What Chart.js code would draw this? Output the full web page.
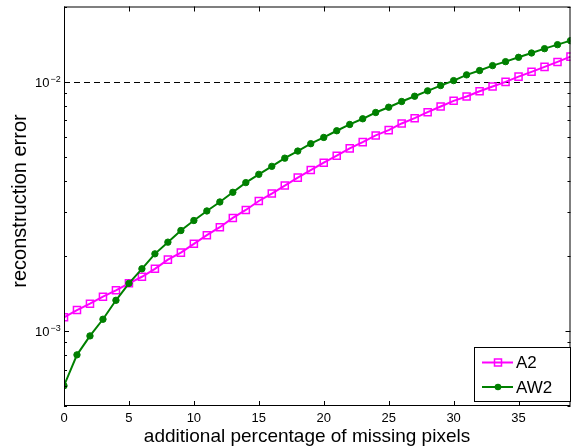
<!DOCTYPE html>
<html>
<head>
<meta charset="utf-8">
<script src="https://cdn.jsdelivr.net/npm/chart.js@4/dist/chart.umd.min.js"></script>
<style>
  html, body { margin: 0; padding: 0; background: #ffffff; }
  #errChart { display: block; }
</style>
</head>
<body>
<canvas id="errChart" width="577" height="448"></canvas>
<script>
// values (log y axis)
const missingPct = [0, 1, 2, 3, 4, 5, 6, 7, 8, 9, 10, 11, 12, 13, 14, 15, 16, 17, 18, 19,
                    20, 21, 22, 23, 24, 25, 26, 27, 28, 29, 30, 31, 32, 33, 34, 35, 36, 37, 38, 39];

const errA2 = [1.134e-3, 1.213e-3, 1.286e-3, 1.372e-3, 1.455e-3, 1.552e-3, 1.649e-3, 1.775e-3, 1.932e-3, 2.061e-3,
               2.235e-3, 2.421e-3, 2.606e-3, 2.839e-3, 3.056e-3, 3.320e-3, 3.555e-3, 3.827e-3, 4.120e-3, 4.418e-3,
               4.729e-3, 5.045e-3, 5.395e-3, 5.717e-3, 6.081e-3, 6.385e-3, 6.792e-3, 7.131e-3, 7.537e-3, 7.943e-3,
               8.372e-3, 8.710e-3, 9.146e-3, 9.550e-3, 9.972e-3, 1.047e-2, 1.094e-2, 1.145e-2, 1.199e-2, 1.259e-2];

const errAW2 = [6.03e-4, 8.02e-4, 9.55e-4, 1.114e-3, 1.327e-3, 1.552e-3, 1.775e-3, 2.038e-3, 2.270e-3, 2.527e-3,
                2.772e-3, 3.028e-3, 3.290e-3, 3.597e-3, 3.934e-3, 4.246e-3, 4.571e-3, 4.930e-3, 5.264e-3, 5.634e-3,
                5.970e-3, 6.350e-3, 6.730e-3, 7.092e-3, 7.516e-3, 7.892e-3, 8.318e-3, 8.734e-3, 9.180e-3, 9.638e-3,
                1.009e-2, 1.064e-2, 1.107e-2, 1.159e-2, 1.202e-2, 1.251e-2, 1.302e-2, 1.355e-2, 1.406e-2, 1.459e-2];

const xTicks = [0, 5, 10, 15, 20, 25, 30, 35];
const yDecades = [1e-3, 1e-2];
const yDecadeExp = ['\u22123', '\u22122'];

const MAGENTA = '#ff00ff';
const GREEN = '#008000';
const FONT = '"Liberation Sans", Arial, sans-serif';

const toPoints = (ys) => ys.map((y, i) => ({ x: missingPct[i], y: y }));

// axes box, inward ticks, labels, titles and legend (MATLAB look)
const matlabAxes = {
    id: 'matlabAxes',
    beforeDatasetsDraw(chart) {
        const ctx = chart.ctx;
        const a = chart.chartArea;
        const y = Math.round(chart.scales.y.getPixelForValue(1e-2)) + 0.5;
        ctx.save();
        ctx.strokeStyle = '#000';
        ctx.lineWidth = 1;
        ctx.setLineDash([6, 4]);
        ctx.beginPath();
        ctx.moveTo(a.left, y);
        ctx.lineTo(a.right, y);
        ctx.stroke();
        ctx.restore();
    },
    afterDatasetsDraw(chart) {
        const ctx = chart.ctx;
        const a = chart.chartArea;
        const xs = chart.scales.x;
        const ys = chart.scales.y;
        ctx.save();
        ctx.strokeStyle = '#000';
        ctx.lineWidth = 1;

        // box
        ctx.strokeRect(a.left + 0.5, a.top + 0.5, a.right - a.left - 1, a.bottom - a.top - 1);

        // x ticks top and bottom
        ctx.beginPath();
        xTicks.forEach(v => {
            const px = Math.round(xs.getPixelForValue(v)) + 0.5;
            ctx.moveTo(px, a.bottom); ctx.lineTo(px, a.bottom - 5);
            ctx.moveTo(px, a.top); ctx.lineTo(px, a.top + 5);
        });
        // y ticks left and right, major + minor
        yDecades.concat([1e-4]).forEach(d => {
            for (let k = 1; k <= 9; k++) {
                const v = d * k;
                if (v < ys.min || v > ys.max) continue;
                const len = k === 1 ? 5 : 3;
                const py = Math.round(ys.getPixelForValue(v)) + 0.5;
                ctx.moveTo(a.left, py); ctx.lineTo(a.left + len, py);
                ctx.moveTo(a.right, py); ctx.lineTo(a.right - len, py);
            }
        });
        ctx.stroke();

        ctx.fillStyle = '#000';
        // x tick labels
        ctx.font = '13px ' + FONT;
        ctx.textAlign = 'center';
        ctx.textBaseline = 'middle';
        xTicks.forEach(v => {
            ctx.fillText(String(v), xs.getPixelForValue(v), a.bottom + 12);
        });

        // y tick labels 10^-n
        yDecades.forEach((v, i) => {
            const py = ys.getPixelForValue(v);
            ctx.font = '13px ' + FONT;
            ctx.textAlign = 'right';
            ctx.textBaseline = 'middle';
            ctx.fillText('10', 49.5, py + 1.5);
            ctx.font = '9px ' + FONT;
            ctx.textAlign = 'left';
            ctx.textBaseline = 'alphabetic';
            ctx.fillText(yDecadeExp[i], 50.5, py);
        });

        // axis titles
        ctx.font = '19px ' + FONT;
        ctx.textAlign = 'center';
        ctx.textBaseline = 'alphabetic';
        ctx.fillText('additional percentage of missing pixels', 307, 442);

        ctx.save();
        ctx.translate(26, 201);
        ctx.rotate(-Math.PI / 2);
        ctx.font = '20px ' + FONT;
        ctx.fillText('reconstruction error', 0, 0);
        ctx.restore();

        // legend
        const lx = 474.5, ly = 347.5, lw = 96, lh = 54;
        ctx.fillStyle = '#fff';
        ctx.fillRect(lx, ly, lw, lh);
        ctx.strokeRect(lx, ly, lw, lh);
        chart.data.datasets.forEach((ds, i) => {
            const rowY = ly + 15 + i * 24.5;
            ctx.strokeStyle = ds.borderColor;
            ctx.lineWidth = 2;
            ctx.beginPath();
            ctx.moveTo(482, rowY); ctx.lineTo(513, rowY);
            ctx.stroke();
            if (ds.pointStyle === 'rect') {
                ctx.lineWidth = 1.5;
                ctx.strokeRect(494.5, rowY - 3.5, 7, 7);
            } else {
                ctx.fillStyle = ds.pointBackgroundColor;
                ctx.beginPath();
                ctx.arc(498, rowY, 3.3, 0, Math.PI * 2);
                ctx.fill();
            }
            ctx.fillStyle = '#000';
            ctx.font = '17px ' + FONT;
            ctx.textAlign = 'left';
            ctx.textBaseline = 'middle';
            ctx.fillText(ds.label, 516, rowY + 1);
        });
        ctx.restore();
    }
};

new Chart(document.getElementById('errChart'), {
    type: 'line',
    data: {
        datasets: [
            {
                label: 'A2',
                data: toPoints(errA2),
                borderColor: MAGENTA,
                borderWidth: 2,
                pointStyle: 'rect',
                pointRadius: 5,
                pointBorderWidth: 1.5,
                pointBorderColor: MAGENTA,
                pointBackgroundColor: 'rgba(255,255,255,0)',
                tension: 0,
                order: 2
            },
            {
                label: 'AW2',
                data: toPoints(errAW2),
                borderColor: GREEN,
                borderWidth: 2,
                pointStyle: 'circle',
                pointRadius: 3.2,
                pointBorderWidth: 1,
                pointBorderColor: GREEN,
                pointBackgroundColor: GREEN,
                tension: 0,
                order: 1
            }
        ]
    },
    options: {
        responsive: false,
        animation: false,
        events: [],
        layout: { padding: { left: 64, right: 5, top: 5, bottom: 42 } },
        plugins: { legend: { display: false }, tooltip: { enabled: false } },
        scales: {
            x: { type: 'linear', min: 0, max: 39, display: false },
            y: { type: 'logarithmic', min: 5e-4, max: 2e-2, display: false }
        }
    },
    plugins: [matlabAxes]
});
</script>
</body>
</html>
